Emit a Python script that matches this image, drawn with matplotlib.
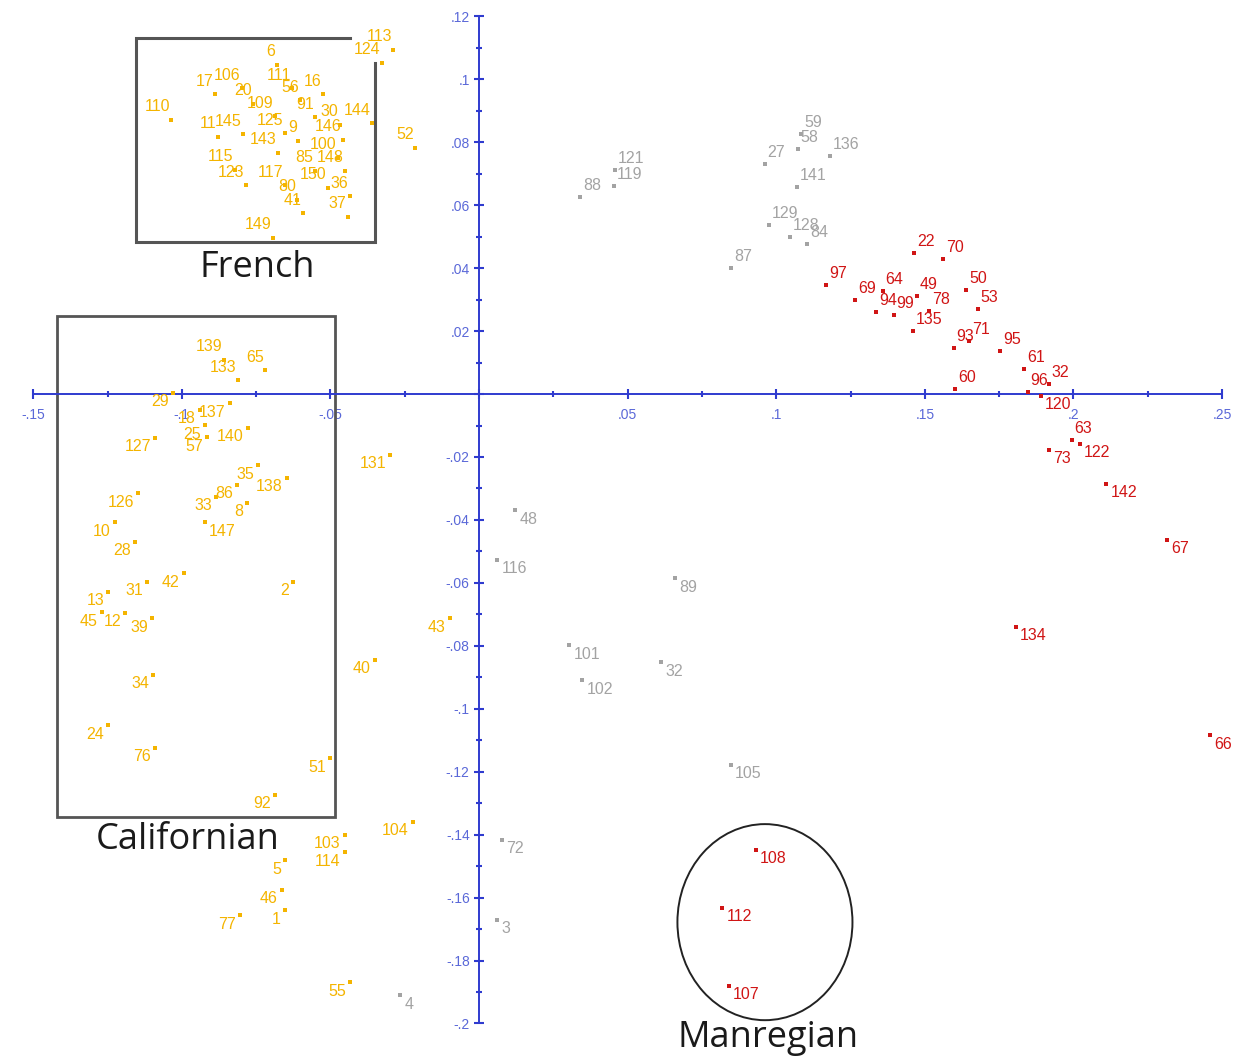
import matplotlib
matplotlib.use('Agg')
import matplotlib.pyplot as plt
from matplotlib.patches import Rectangle, Ellipse
from matplotlib.ticker import FixedLocator, FuncFormatter
import numpy as np

# --- scores on the first two axes, by group ---
red_labels = ['97', '22', '70', '69', '94', '99', '64', '49', '78', '135', '50', '53', '93', '71', '95',
              '61', '60', '96', '32', '120', '63', '122', '73', '142', '67', '134', '66', '108', '112', '107']
red_x = [0.1168, 0.1464, 0.1561, 0.1265, 0.1336, 0.1396, 0.1359, 0.1474, 0.1514, 0.1460, 0.1639, 0.1679,
         0.1598, 0.1649, 0.1753, 0.1834, 0.1602, 0.1847, 0.1918, 0.1891, 0.1995, 0.2022, 0.1918, 0.2110,
         0.2315, 0.1807, 0.2460, 0.0932, 0.0818, 0.0841]
red_y = [0.0346, 0.0448, 0.0429, 0.0299, 0.0261, 0.0251, 0.0327, 0.0311, 0.0264, 0.0200, 0.0330, 0.0270,
         0.0146, 0.0168, 0.0137, 0.0079, 0.0016, 0.0006, 0.0032, -0.0006, -0.0146, -0.0159, -0.0178, -0.0286,
         -0.0464, -0.0740, -0.1084, -0.1449, -0.1633, -0.1881]

grey_labels = ['88', '119', '121', '27', '58', '59', '136', '141', '129', '128', '84', '87',
               '48', '116', '89', '101', '102', '32', '105', '72', '3', '4']
grey_x = [0.0340, 0.0454, 0.0458, 0.0962, 0.1073, 0.1084, 0.1181, 0.1070, 0.0976, 0.1047, 0.1104, 0.0848,
          0.0121, 0.0061, 0.0660, 0.0303, 0.0347, 0.0612, 0.0848, 0.0077, 0.0061, -0.0266]
grey_y = [0.0626, 0.0661, 0.0712, 0.0731, 0.0779, 0.0826, 0.0756, 0.0658, 0.0537, 0.0499, 0.0477, 0.0400,
          -0.0369, -0.0527, -0.0585, -0.0798, -0.0909, -0.0852, -0.1179, -0.1417, -0.1671, -0.1910]

yellow_labels = ['6', '124', '113', '17', '106', '111', '16', '110', '20', '109', '56', '91', '30', '144',
                 '11', '145', '125', '9', '146', '52', '143', '100', '115', '85', '148', '123', '117', '150',
                 '36', '80', '41', '37', '149',
                 '139', '133', '65', '29', '137', '18', '25', '57', '140', '127', '35', '138', '126', '33',
                 '86', '8', '147', '10', '28', '31', '42', '2', '13', '45', '12', '39', '43', '40', '34',
                 '24', '76', '51', '92', '131', '104', '103', '114', '5', '46', '1', '77', '55']
yellow_x = [-0.0680, -0.0326, -0.0289, -0.0888, -0.0798, -0.0629, -0.0525, -0.1036, -0.0761, -0.0686,
            -0.0602, -0.0552, -0.0468, -0.0360, -0.0878, -0.0794, -0.0653, -0.0609, -0.0458, -0.0215,
            -0.0676, -0.0474, -0.0821, -0.0552, -0.0451, -0.0784, -0.0653, -0.0508, -0.0434, -0.0612,
            -0.0592, -0.0441, -0.0693,
            -0.0858, -0.0811, -0.0720, -0.1030, -0.0838, -0.0939, -0.0922, -0.0915, -0.0777, -0.1090,
            -0.0744, -0.0646, -0.1147, -0.0885, -0.0814, -0.0781, -0.0922, -0.1225, -0.1158, -0.1117,
            -0.0993, -0.0626, -0.1248, -0.1269, -0.1191, -0.1100, -0.0098, -0.0350, -0.1097, -0.1248,
            -0.1090, -0.0501, -0.0686, -0.0299, -0.0222, -0.0451, -0.0451, -0.0653, -0.0663, -0.0653,
            -0.0804, -0.0434]
yellow_y = [0.1046, 0.1052, 0.1093, 0.0953, 0.0972, 0.0972, 0.0953, 0.0871, 0.0922, 0.0883, 0.0934,
            0.0880, 0.0855, 0.0861, 0.0817, 0.0826, 0.0829, 0.0804, 0.0807, 0.0782, 0.0766, 0.0750,
            0.0712, 0.0709, 0.0709, 0.0664, 0.0664, 0.0655, 0.0629, 0.0617, 0.0575, 0.0563, 0.0496,
            0.0108, 0.0044, 0.0076, 0.0003, -0.0029, -0.0051, -0.0099, -0.0137, -0.0108, -0.0140,
            -0.0226, -0.0267, -0.0315, -0.0327, -0.0289, -0.0346, -0.0407, -0.0407, -0.0470, -0.0597,
            -0.0569, -0.0597, -0.0629, -0.0693, -0.0696, -0.0712, -0.0712, -0.0845, -0.0893, -0.1052,
            -0.1125, -0.1157, -0.1274, -0.0194, -0.1360, -0.1401, -0.1456, -0.1481, -0.1576, -0.1640,
            -0.1656, -0.1869]

# where each label sits relative to its point
red_place = ['ur'] * 19 + ['lr'] + ['ur'] + ['lr'] * 9
grey_place = ['ur'] * 12 + ['lr'] * 10
yellow_place = ['ul'] * 36 + ['ll'] * 13 + ['lr'] + ['ll'] * 25

places = {
    'ur': ((2, 3), 'left', 'bottom'),
    'ul': ((-1, 4), 'right', 'bottom'),
    'll': ((-3, -1), 'right', 'top'),
    'lr': ((3, -1), 'left', 'top'),
}

RED = '#d01515'
GREY = '#a3a3a3'
YELLOW = '#f4b400'
AXIS = '#2f3bcf'
TICKTXT = '#5a68d8'

fig = plt.figure(figsize=(12.44, 10.6), dpi=100)
ax = fig.add_axes([0, 0, 1, 1])
ax.set_xlim(-0.1612, 0.2574)
ax.set_ylim(-0.2116, 0.1252)

for labs, xs, ys, pl, col in [(red_labels, red_x, red_y, red_place, RED),
                              (grey_labels, grey_x, grey_y, grey_place, GREY),
                              (yellow_labels, yellow_x, yellow_y, yellow_place, YELLOW)]:
    ax.scatter(xs, ys, s=7, color=col, marker='s', linewidths=0, zorder=3)
    for lab, x, y, p in zip(labs, xs, ys, pl):
        off, ha, va = places[p]
        ax.annotate(lab, (x, y), xytext=off, textcoords='offset points', ha=ha, va=va,
                    fontsize=11.5, color=col, family='Liberation Sans', zorder=3)

# axes crossing at the origin
for side in ['top', 'right']:
    ax.spines[side].set_visible(False)
ax.spines['left'].set_position(('data', 0))
ax.spines['bottom'].set_position(('data', 0))
ax.spines['left'].set_bounds(-0.2, 0.12)
ax.spines['bottom'].set_bounds(-0.15, 0.25)
for side in ['left', 'bottom']:
    ax.spines[side].set_color(AXIS)
    ax.spines[side].set_linewidth(1.4)

xmaj = np.round(np.arange(-0.15, 0.2501, 0.05), 3)
xmin = np.round(np.arange(-0.125, 0.25, 0.05), 3)
ymaj = np.round(np.arange(-0.2, 0.1201, 0.02), 3)
ymin = np.round(np.arange(-0.19, 0.12, 0.02), 3)
ax.xaxis.set_major_locator(FixedLocator(xmaj))
ax.xaxis.set_minor_locator(FixedLocator(xmin))
ax.yaxis.set_major_locator(FixedLocator(ymaj))
ax.yaxis.set_minor_locator(FixedLocator(ymin))


def short(v, pos):
    v = round(v, 3)
    if v == 0:
        return ''
    s = f'{v:.2f}'.rstrip('0')
    return s.replace('0.', '.')


ax.xaxis.set_major_formatter(FuncFormatter(short))
ax.yaxis.set_major_formatter(FuncFormatter(short))
ax.tick_params(which='major', direction='inout', length=7.5, width=1.5, color=AXIS,
               labelsize=10, labelcolor=TICKTXT)
ax.tick_params(which='minor', direction='inout', length=4, width=1.5, color=AXIS)
ax.tick_params(axis='x', which='major', pad=6)
ax.tick_params(axis='y', which='major', pad=3)
for t in ax.get_xticklabels() + ax.get_yticklabels():
    t.set_family('Liberation Sans')

# group outlines
box_col = '#555555'
ax.plot([-0.0434, -0.1154, -0.1154, -0.0350, -0.0350], [0.1131, 0.1131, 0.0483, 0.0483, 0.1052],
        color=box_col, lw=2.2, solid_joinstyle='miter', zorder=2)
ax.add_patch(Rectangle((-0.1420, -0.1344), 0.0935, 0.1592, fill=False, edgecolor=box_col, lw=2, zorder=2))
ax.add_patch(Ellipse((0.0962, -0.1678), 0.0589, 0.0623, fill=False, edgecolor='#222222', lw=1.4, zorder=2))

big = dict(fontsize=26, family='Open Sans', color='#1a1a1a', ha='center', va='center')
ax.text(-0.0747, 0.0400, 'French', **big)
ax.text(-0.0979, -0.1417, 'Californian', **big)
ax.text(0.0972, -0.2046, 'Manregian', **big)

fig.savefig('out.png', dpi=100)
